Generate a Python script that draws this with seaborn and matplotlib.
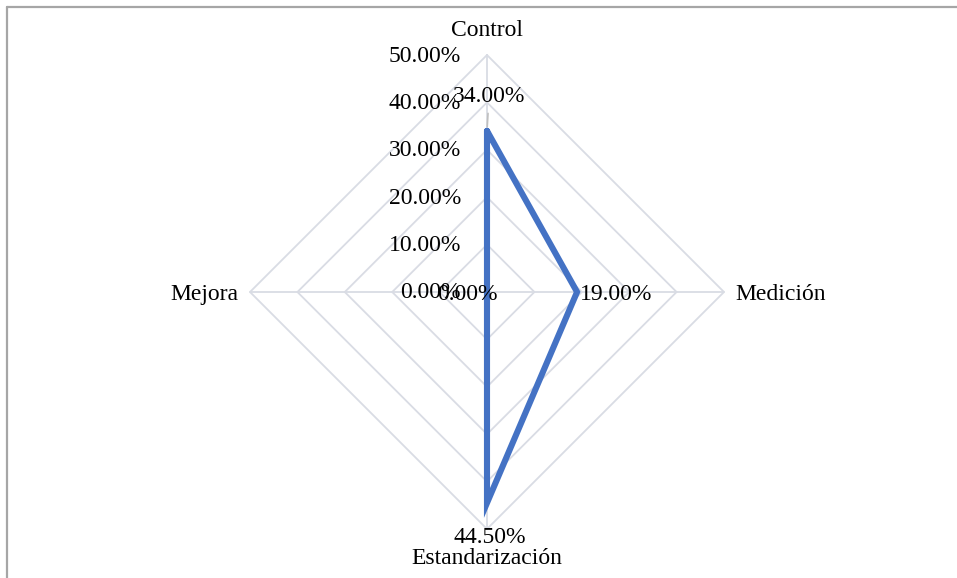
import numpy as np
import matplotlib
matplotlib.use("Agg")
import matplotlib.pyplot as plt
from matplotlib.lines import Line2D
import seaborn as sns

# Data
categories = ["Control", "Medición", "Estandarización", "Mejora"]
values = [0.34, 0.19, 0.445, 0.0]
value_labels = ["34.00%", "19.00%", "44.50%", "0.00%"]
levels = [0.0, 0.1, 0.2, 0.3, 0.4, 0.5]
level_labels = ["0.00%", "10.00%", "20.00%", "30.00%", "40.00%", "50.00%"]

sns.set_theme(style="white")
plt.rcParams["font.family"] = ["Liberation Serif", "DejaVu Serif"]

FS = 17
LINE_COLOR = "#4472C4"
GRID_COLOR = "#D9DCE4"

fig = plt.figure(figsize=(9.57, 5.78), dpi=100)
fig.patch.set_facecolor("white")

# Outer frame (top and left edges visible)
fig.add_artist(Line2D([6.5 / 957, 6.5 / 957], [0, 1 - 6.5 / 578],
                      color="#A6A6A6", lw=1.6, transform=fig.transFigure))
fig.add_artist(Line2D([6.5 / 957, 1], [1 - 6.5 / 578, 1 - 6.5 / 578],
                      color="#A6A6A6", lw=1.6, transform=fig.transFigure))

ax = fig.add_axes([250 / 957, 49 / 578, 474 / 957, 474 / 578], projection="polar")
ax.set_theta_offset(np.pi / 2)
ax.set_theta_direction(-1)
ax.set_ylim(0, 0.5)
ax.grid(False)
ax.spines["polar"].set_visible(False)
ax.set_xticks([])
ax.set_yticks([])
ax.patch.set_alpha(0)

n = len(categories)
angles = np.arange(n) * 2 * np.pi / n
# close the polygon with theta = 2*pi so every x value stays unique
closed_angles = np.append(angles, 2 * np.pi)
closed_values = values + [values[0]]

# Diamond grid rings and spokes
for lv in levels[1:]:
    ax.plot(closed_angles, [lv] * (n + 1), color=GRID_COLOR, lw=1.3, zorder=1, clip_on=False)
for a in angles:
    ax.plot([a, a], [0, levels[-1]], color=GRID_COLOR, lw=1.3, zorder=1, clip_on=False)

# Data series
sns.lineplot(x=closed_angles, y=closed_values, sort=False, estimator=None,
             color=LINE_COLOR, lw=4.4, ax=ax, zorder=3, clip_on=False)
ax.lines[-1].set_solid_joinstyle("miter")
ax.lines[-1].set_solid_capstyle("round")

# Radial tick labels along the top spoke
for lv, lab in zip(levels, level_labels):
    ax.annotate(lab, xy=(0, lv), xytext=(-26, -1), textcoords="offset pixels",
                ha="right", va="center", fontsize=FS, color="black", annotation_clip=False)

# Category labels
cat_offsets = [(0, 24), (11, -2), (0, -29), (-12, -2)]
cat_align = [("center", "center"), ("left", "center"), ("center", "center"), ("right", "center")]
for a, lab, off, (ha, va) in zip(angles, categories, cat_offsets, cat_align):
    ax.annotate(lab, xy=(a, levels[-1]), xytext=off, textcoords="offset pixels",
                ha=ha, va=va, fontsize=FS, color="black", annotation_clip=False)

# Value labels
val_offsets = [(2, 34), (3, -2), (3, -35), (-20, -2)]
val_align = [("center", "center"), ("left", "center"), ("center", "center"), ("center", "center")]
for i, (a, v, lab, off, (ha, va)) in enumerate(zip(angles, values, value_labels, val_offsets, val_align)):
    props = None
    if i == 0:
        props = dict(arrowstyle="-", color="#BFBFBF", lw=1.2, shrinkA=2, shrinkB=3)
    ax.annotate(lab, xy=(a, v), xytext=off, textcoords="offset pixels",
                ha=ha, va=va, fontsize=FS, color="black", annotation_clip=False,
                arrowprops=props, zorder=4)

fig.savefig("out.png", dpi=100, facecolor="white")
